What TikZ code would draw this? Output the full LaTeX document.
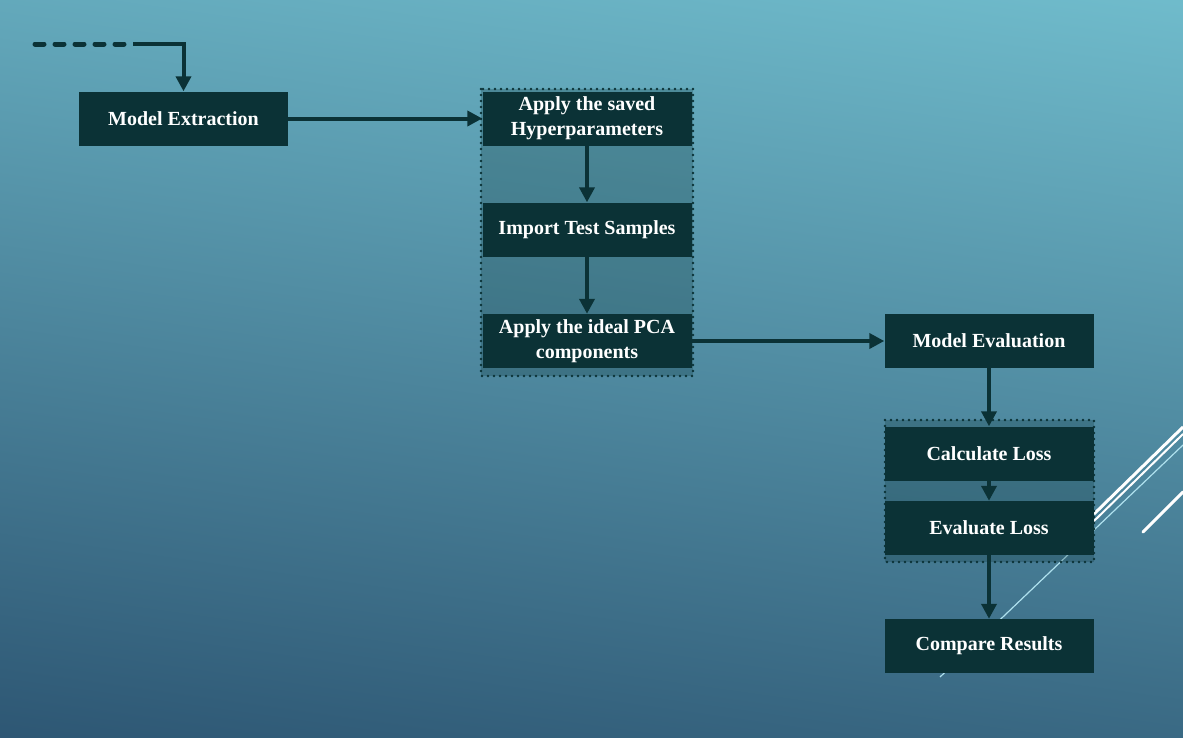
\documentclass[tikz,border=0pt]{standalone}
\usepackage{fontspec}
\setmainfont{Liberation Serif}
\usetikzlibrary{arrows.meta}

\definecolor{boxdark}{RGB}{11,50,54}
\definecolor{bgtop}{RGB}{112,188,204}
\definecolor{bgbottom}{RGB}{45,86,115}
\definecolor{slicelight}{RGB}{175,225,238}

\tikzset{
    stage/.style={fill=boxdark, text=white, font=\bfseries\fontsize{20}{25}\selectfont,
        minimum width=209pt, minimum height=54pt, inner sep=0pt, align=center},
    flow/.style={draw=boxdark, line width=4pt, -{Triangle[width=15pt,length=15pt]}},
    stagegroup/.style={draw=boxdark, line width=2.6pt, line cap=round, dash pattern=on 0pt off 6pt,
        fill=boxdark, fill opacity=0.25},
}

\begin{document}
\begin{tikzpicture}[x=1pt, y=-1pt]

\useasboundingbox (0,0) rectangle (1183,737);
\shade[top color=bgtop, bottom color=bgbottom, shading angle=-8] (-60,-60) rectangle (1243,797);

% slide decoration
\draw[white, line width=3pt] (1094,514) -- (1183,427);
\draw[white, line width=2pt] (1094,521) -- (1183,434);
\draw[slicelight, line width=1.2pt] (940,677) -- (1183,445);
\draw[white, line width=3pt, line cap=round] (1143,532) -- (1183,492);

\draw[stagegroup] (481,89) rectangle (693,376);
\draw[stagegroup] (885,420) rectangle (1094,562);

\node[stage] (extract) at (183.5,118.5) {Model Extraction};
\node[stage] (hyper) at (587,118.5) {Apply the saved\\Hyperparameters};
\node[stage] (samples) at (587,229.5) {Import Test Samples};
\node[stage] (pca) at (587,341) {Apply the ideal PCA\\components};
\node[stage] (evalm) at (989,341) {Model Evaluation};
\node[stage] (calc) at (989,453.5) {Calculate Loss};
\node[stage] (evall) at (989,528) {Evaluate Loss};
\node[stage] (compare) at (989,646) {Compare Results};

\coordinate (feed) at (35,44);
\coordinate (bend) at (133,44);

\draw[boxdark, line width=5pt, line cap=round, dash pattern=on 9pt off 11pt] (feed) -- (bend);
\draw[flow] (bend) -| (extract.north);
\draw[flow] (extract) -- (hyper);
\draw[flow] (hyper) -- (samples);
\draw[flow] (samples) -- (pca);
\draw[flow] (pca) -- (evalm);
\draw[flow] (evalm) -- (calc);
\draw[flow] (calc) -- (evall);
\draw[flow] (evall) -- (compare);
\end{tikzpicture}
\end{document}
